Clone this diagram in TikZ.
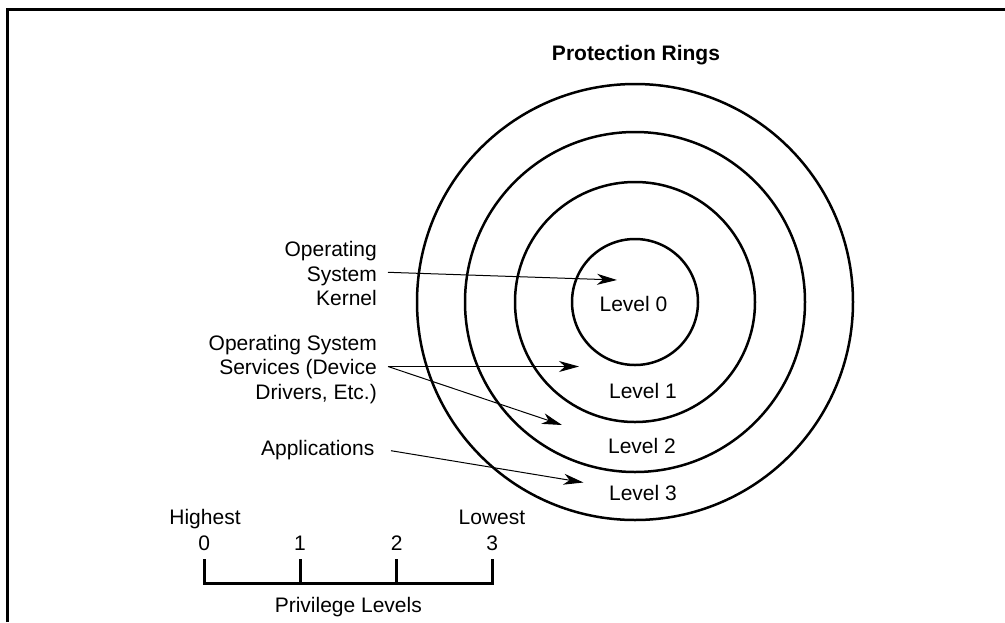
\documentclass[tikz,border=0pt]{standalone}
\usepackage{fontspec}
\setmainfont{Liberation Sans}
\usetikzlibrary{arrows.meta}
\begin{document}
\begin{tikzpicture}[x=1pt,y=-1pt,
  lbl/.style={font=\fontsize{21}{24.6}\selectfont, inner sep=0pt},
  ttl/.style={font=\fontsize{21}{24.6}\selectfont\bfseries, inner sep=0pt},
  ring/.style={draw, circle, line width=2.5pt, inner sep=0pt},
  ptr/.style={line width=1pt, -{Stealth[length=20pt,width=11pt,inset=6pt]}},
  heavy/.style={line width=3pt}]
\useasboundingbox (0,0) rectangle (1005,622);
% frame
\draw[heavy] (7,622) -- (7,9) -- (1005,9);
% rings
\coordinate (c) at (635,302);
\node[ring, minimum size=436pt] (r3) at (c) {};
\node[ring, minimum size=340pt] (r2) at (c) {};
\node[ring, minimum size=240pt] (r1) at (c) {};
\node[ring, minimum size=126pt] (r0) at (c) {};
\node[ttl, anchor=base] (title) at (636,60) {Protection Rings};
\node[lbl, anchor=base] (l0) at (633.5,311.7) {Level 0};
\node[lbl, anchor=base] (l1) at (643,398.3) {Level 1};
\node[lbl, anchor=base] (l2) at (642,453.3) {Level 2};
\node[lbl, anchor=base] (l3) at (643,500.7) {Level 3};
% left labels
\node[lbl, align=right, anchor=base east] (kern) at (377,305.7) {Operating\\System\\Kernel};
\node[lbl, align=right, anchor=base east] (serv) at (377,399.3) {Operating System\\Services (Device\\Drivers, Etc.)};
\node[lbl, anchor=base east] (apps) at (374.5,455) {Applications};
% arrows
\coordinate (ks) at (388,272.3);
\coordinate (kt) at (617,280);
\coordinate (ss) at (388,366.5);
\coordinate (st1) at (579,366.5);
\coordinate (st2) at (562,425);
\coordinate (as) at (391,450.7);
\coordinate (at3) at (583.5,482.5);
\draw[ptr] (ks) -- (kt);
\draw[ptr] (ss) -- (st1);
\draw[ptr] (ss) -- (st2);
\draw[ptr] (as) -- (at3);
% privilege scale
\coordinate (t0) at (204.3,583.3);
\coordinate (t1) at (300,583.3);
\coordinate (t2) at (396.7,583.3);
\coordinate (t3) at (492.3,583.3);
\draw[heavy, line join=miter] ([yshift=24pt]t0) -- (t0) -- (t3) -- ([yshift=24pt]t3);
\draw[heavy] (t1) -- ([yshift=24pt]t1);
\draw[heavy] (t2) -- ([yshift=24pt]t2);
\node[lbl, anchor=base] (n0) at (204.3,550.7) {0};
\node[lbl, anchor=base] (n1) at (300,550.7) {1};
\node[lbl, anchor=base] (n2) at (396.7,550.7) {2};
\node[lbl, anchor=base] (n3) at (492.3,550.7) {3};
\node[lbl, anchor=base] (hi) at (205,524) {Highest};
\node[lbl, anchor=base] (lo) at (492,524) {Lowest};
\node[lbl, anchor=base] (pl) at (348.3,612.5) {Privilege Levels};
\end{tikzpicture}
\end{document}
